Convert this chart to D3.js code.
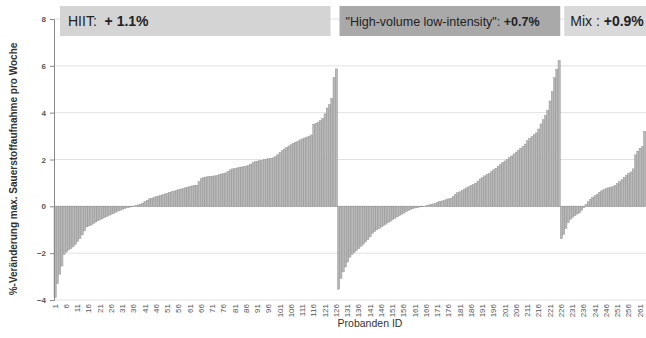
<!DOCTYPE html>
<html>
<head>
<meta charset="utf-8">
<script src="https://cdn.jsdelivr.net/npm/d3@7"></script>
<style>
  body { margin: 0; background: #fff; }
  text { font-family: "Liberation Sans", Arial, sans-serif; }
</style>
</head>
<body>
<div id="chart"></div>
<script>
// sorted weekly change per subject, one array per training group
const hiit = [
  -3.9, -3.3, -2.9, -2.55, -2.05, -1.95, -1.86, -1.8, -1.72, -1.62,
  -1.5, -1.38, -1.22, -1.05, -0.88, -0.84, -0.8, -0.74, -0.68, -0.62,
  -0.57, -0.53, -0.48, -0.43, -0.38, -0.34, -0.3, -0.25, -0.2, -0.17,
  -0.13, -0.09, -0.06, -0.04, -0.02, 0.01, 0.03, 0.06, 0.09, 0.14,
  0.2, 0.26, 0.32, 0.35, 0.38, 0.41, 0.44, 0.47, 0.5, 0.53,
  0.56, 0.6, 0.63, 0.65, 0.68, 0.71, 0.74, 0.76, 0.79, 0.82,
  0.85, 0.87, 0.89, 0.9, 1.05, 1.18, 1.22, 1.25, 1.27, 1.28,
  1.29, 1.3, 1.32, 1.35, 1.38, 1.4, 1.43, 1.5, 1.56, 1.6,
  1.62, 1.64, 1.66, 1.68, 1.7, 1.72, 1.74, 1.8, 1.87, 1.91,
  1.93, 1.95, 1.97, 1.99, 2.01, 2.03, 2.05, 2.07, 2.12, 2.2,
  2.3, 2.38, 2.45, 2.52, 2.58, 2.63, 2.69, 2.74, 2.79, 2.84,
  2.88, 2.92, 2.96, 3.0, 3.05, 3.5, 3.55, 3.6, 3.66, 3.75,
  3.95, 4.2, 4.35, 4.6, 5.5, 5.87
];
const hvli = [
  -3.54, -3.08, -2.8, -2.59, -2.38, -2.17, -2.05, -1.96, -1.88, -1.8,
  -1.7, -1.61, -1.52, -1.42, -1.3, -1.15, -1.08, -1.0, -0.95, -0.88,
  -0.82, -0.76, -0.7, -0.64, -0.57, -0.51, -0.45, -0.4, -0.34, -0.29,
  -0.23, -0.18, -0.14, -0.1, -0.07, -0.05, -0.03, -0.02, -0.01, 0.02,
  0.04, 0.07, 0.1, 0.13, 0.17, 0.21, 0.23, 0.25, 0.28, 0.32,
  0.35, 0.42, 0.52, 0.58, 0.62, 0.68, 0.74, 0.79, 0.84, 0.89,
  0.93, 0.99, 1.08, 1.17, 1.23, 1.3, 1.36, 1.41, 1.48, 1.56,
  1.63, 1.71, 1.78, 1.86, 1.94, 2.01, 2.08, 2.15, 2.24, 2.32,
  2.4, 2.48, 2.56, 2.66, 2.8, 2.9, 2.98, 3.06, 3.14, 3.3,
  3.52, 3.7, 3.88, 4.1, 4.5, 4.9, 5.5, 5.85, 6.22
];
const mix = [
  -1.38, -1.2, -0.95, -0.7, -0.55, -0.47, -0.4, -0.33, -0.28, -0.17,
  -0.05, 0.08, 0.2, 0.3, 0.38, 0.45, 0.52, 0.6, 0.66, 0.71,
  0.75, 0.79, 0.82, 0.84, 0.9, 0.98, 1.05, 1.14, 1.24, 1.33,
  1.4, 1.47, 1.6, 2.2, 2.35, 2.48, 2.55, 3.2
];
const groupLabels = [
  { name: 'HIIT:  ', value: '+ 1.1%' },
  { name: '"High-volume low-intensity": ', value: '+0.7%' },
  { name: 'Mix : ', value: '+0.9%' }
];
const yTicks = [-4, -2, 0, 2, 4, 6, 8];

const width = 646, height = 338;

// flatten groups into one id sequence
const groups = [hiit, hvli, mix];
const bars = [];
groups.forEach((g, gi) => g.forEach(v => bars.push({ id: bars.length + 1, value: v, group: gi })));
const ids = bars.map(d => d.id);
const xLabels = ids.filter(id => (id - 1) % 5 === 0);

const svg = d3.select('#chart').append('svg')
  .attr('width', width)
  .attr('height', height);

const x = d3.scaleBand()
  .domain(ids)
  .range([54, 54 + ids.length * 2.25])
  .padding(0);

const y = d3.scaleLinear()
  .domain([-4, 8])
  .range([300, 19]);

// gridlines
svg.append('g')
  .selectAll('line')
  .data(yTicks)
  .enter()
  .append('line')
  .attr('x1', 54)
  .attr('x2', width)
  .attr('y1', d => y(d))
  .attr('y2', d => y(d))
  .attr('stroke', d => d === 0 ? '#c4c4c4' : '#e2e2e2')
  .attr('stroke-width', 1);

// group header boxes
const boxColors = ['#d4d4d4', '#a9a9a9', '#d9d9d9'];
const headerTxt = [
  { size: 14, dx: 8, padL: 0, padR: -7 },
  { size: 12.5, dx: 6, padL: 2, padR: 0 },
  { size: 14, dx: 6, padL: 4, padR: 0 }
];
let start = 0;
groups.forEach((g, gi) => {
  const first = ids[start];
  const last = ids[start + g.length - 1];
  const h = headerTxt[gi];
  const x0 = gi === 0 ? 60 : x(first) + h.padL;
  const x1 = gi === groups.length - 1 ? width + 20 : x(last) + x.bandwidth() + h.padR;
  svg.append('rect')
    .attr('x', x0)
    .attr('y', 6)
    .attr('width', x1 - x0)
    .attr('height', 30)
    .attr('fill', boxColors[gi]);
  const t = svg.append('text')
    .attr('x', x0 + h.dx)
    .attr('y', 26)
    .attr('font-size', h.size)
    .attr('fill', '#222');
  t.append('tspan').text(groupLabels[gi].name).attr('xml:space', 'preserve');
  t.append('tspan').text(groupLabels[gi].value).attr('font-weight', 'bold');
  start += g.length;
});

// bars
svg.append('g')
  .selectAll('rect')
  .data(bars)
  .enter()
  .append('rect')
  .attr('x', d => x(d.id))
  .attr('width', x.bandwidth())
  .attr('y', d => y(Math.max(0, d.value)))
  .attr('height', d => Math.abs(y(d.value) - y(0)))
  .attr('fill', '#b8b8b8')
  .attr('stroke', '#8c8c8c')
  .attr('stroke-width', 0.4);

// y axis
const yAxis = svg.append('g')
  .attr('transform', 'translate(54,0)')
  .call(d3.axisLeft(y).tickValues(yTicks).tickSize(4).tickPadding(4));
yAxis.select('.domain').attr('stroke', '#888');
yAxis.selectAll('.tick line').attr('stroke', '#888');
yAxis.selectAll('.tick text')
  .attr('font-size', 8)
  .attr('font-weight', 'bold')
  .attr('fill', '#555');

// x axis labels
const xAxis = svg.append('g')
  .attr('transform', 'translate(0,300)')
  .call(d3.axisBottom(x).tickValues(xLabels).tickSize(0).tickPadding(3));
xAxis.select('.domain').remove();
xAxis.selectAll('.tick text')
  .attr('font-size', 8)
  .attr('fill', '#555')
  .attr('transform', 'rotate(-90)')
  .attr('text-anchor', 'end')
  .attr('dy', '0.32em')
  .attr('x', -4)
  .attr('y', 0);

// axis titles
svg.append('text')
  .attr('transform', 'translate(17,169) rotate(-90)')
  .attr('text-anchor', 'middle')
  .attr('font-size', 10)
  .attr('font-weight', 'bold')
  .attr('fill', '#333')
  .text('%-Veränderung max. Sauerstoffaufnahme pro Woche');

svg.append('text')
  .attr('x', 370)
  .attr('y', 327)
  .attr('text-anchor', 'middle')
  .attr('font-size', 10.5)
  .attr('fill', '#333')
  .text('Probanden ID');
</script>
</body>
</html>
